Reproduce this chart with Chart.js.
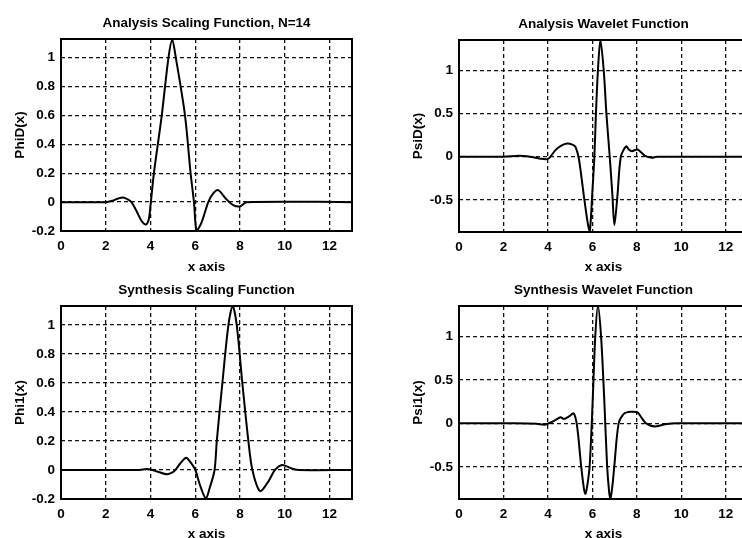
<!DOCTYPE html>
<html><head><meta charset="utf-8">
<script src="https://cdn.jsdelivr.net/npm/chart.js@4/dist/chart.umd.min.js"></script>
<style>
html,body{margin:0;padding:0;background:#fff;width:742px;height:538px;overflow:hidden;position:relative}
canvas{position:absolute}
</style></head><body>
<canvas id="c1" width="371" height="275" style="left:0;top:0"></canvas>
<canvas id="c2" width="380" height="275" style="left:371px;top:0"></canvas>
<canvas id="c3" width="371" height="274" style="left:0;top:268px"></canvas>
<canvas id="c4" width="380" height="274" style="left:371px;top:268px"></canvas>
<script>
// ---- data ----
const xTicks = [0, 2, 4, 6, 8, 10, 12];
const phiYTicks = [-0.2, 0, 0.2, 0.4, 0.6, 0.8, 1];
const psiYTicks = [-0.5, 0, 0.5, 1];
const titles = ['Analysis Scaling Function, N=14', 'Analysis Wavelet Function', 'Synthesis Scaling Function', 'Synthesis Wavelet Function'];
const yTitles = ['PhiD(x)', 'PsiD(x)', 'Phi1(x)', 'Psi1(x)'];
const xTitle = 'x axis';

const phiDx = [0, 2.0, 2.3, 2.55, 2.78, 3.0, 3.15, 3.4, 3.6, 3.79, 3.92, 4.0, 4.15, 4.5, 4.8, 4.97, 5.13, 5.54, 5.79, 5.94, 6.06, 6.28, 6.58, 6.8, 7.02, 7.39, 7.69, 7.99, 8.29, 13];
const phiDy = [0, 0, 0.01, 0.025, 0.032, 0.018, 0, -0.07, -0.13, -0.155, -0.12, -0.02, 0.2, 0.6, 1.0, 1.125, 1.0, 0.6, 0.2, 0, -0.2, -0.14, 0, 0.06, 0.083, 0.02, -0.02, -0.03, 0, 0];

const psiDx = [0, 2.0, 2.7, 3.2, 3.6, 4.0, 4.34, 4.6, 4.87, 5.1, 5.24, 5.39, 5.61, 5.78, 5.88, 6.0, 6.09, 6.16, 6.25, 6.36, 6.51, 6.63, 6.78, 6.9, 6.99, 7.13, 7.28, 7.52, 7.65, 7.78, 8.03, 8.2, 8.37, 8.67, 8.9, 13];
const psiDy = [0, 0, 0.012, 0, -0.02, -0.025, 0.077, 0.13, 0.154, 0.14, 0.115, -0.02, -0.44, -0.75, -0.87, -0.4, 0, 0.5, 1.0, 1.35, 1.0, 0.5, 0, -0.44, -0.79, -0.44, 0, 0.12, 0.08, 0.065, 0.085, 0.05, 0.01, -0.012, 0, 0];

const phi1x = [0, 3.5, 3.8, 4.0, 4.3, 4.74, 5.0, 5.11, 5.35, 5.59, 5.8, 6.0, 6.2, 6.47, 6.65, 6.86, 6.96, 7.21, 7.48, 7.67, 7.85, 8.1, 8.37, 8.55, 8.89, 9.26, 9.56, 9.88, 10.3, 10.6, 13];
const phi1y = [0, 0, 0.006, 0.004, -0.01, -0.03, -0.015, 0, 0.05, 0.085, 0.05, 0, -0.1, -0.195, -0.12, 0, 0.2, 0.6, 1.0, 1.13, 1.0, 0.6, 0.2, 0, -0.145, -0.08, 0, 0.035, 0.01, 0, 0];

const psi1x = [0, 2.5, 3.5, 3.85, 4.12, 4.35, 4.57, 4.72, 4.95, 5.16, 5.31, 5.49, 5.62, 5.69, 5.78, 5.88, 6.01, 6.13, 6.25, 6.39, 6.54, 6.66, 6.75, 6.81, 6.9, 6.99, 7.18, 7.4, 7.6, 7.78, 8.03, 8.2, 8.37, 8.6, 8.82, 9.05, 9.27, 9.8, 13];
const psi1y = [0, 0, -0.005, -0.015, 0.01, 0.04, 0.07, 0.05, 0.08, 0.115, -0.03, -0.48, -0.75, -0.81, -0.7, -0.48, 0.24, 1.0, 1.35, 1.0, 0.24, -0.48, -0.78, -0.87, -0.72, -0.48, 0, 0.107, 0.13, 0.134, 0.126, 0.07, 0.01, -0.025, -0.035, -0.025, -0.01, 0, 0];

// ---- layout (positions in canvas pixels) ----
const FONT = "'Liberation Sans', Arial, Helvetica, sans-serif";
const FS = 13.5;

const framePlugin = {
  id: 'frame',
  afterDraw(chart) {
    const a = chart.chartArea, ctx = chart.ctx;
    ctx.save();
    ctx.strokeStyle = '#000';
    ctx.lineWidth = 2;
    ctx.strokeRect(a.left, a.top, a.right - a.left, a.bottom - a.top);
    ctx.restore();
  }
};

function makeChart(id, xs, ys, yTicks, yMin, yMax, title, yTitle, L) {
  const pts = xs.map((x, i) => ({x: x, y: ys[i]}));
  const canvas = document.getElementById(id);
  const H = canvas.height, W = canvas.width;
  return new Chart(canvas, {
    type: 'line',
    data: {datasets: [{data: pts, borderColor: '#000', borderWidth: 2, pointRadius: 0, fill: false, tension: 0.3}]},
    options: {
      responsive: false, animation: false, devicePixelRatio: 1,
      layout: {padding: {left: 0, right: W - L.right, top: 0, bottom: 0}},
      plugins: {
        legend: {display: false}, tooltip: {enabled: false},
        title: {display: true, text: title, color: '#000', fullSize: false,
          font: {family: FONT, size: FS, weight: 'bold', lineHeight: 1.2},
          padding: {top: L.titleY - FS * 0.6, bottom: L.top - L.titleY - FS * 0.6}}
      },
      scales: {
        x: {type: 'linear', min: 0, max: 13,
          afterBuildTicks: s => { s.ticks = xTicks.map(v => ({value: v})); },
          afterFit: s => { s.height = H - L.bottom; },
          grid: {color: '#111', lineWidth: 1.3, drawTicks: false},
          border: {display: false, dash: [4, 3]},
          ticks: {color: '#000', padding: 7, maxRotation: 0, autoSkip: false, font: {family: FONT, size: FS, weight: 'bold'}, callback: v => String(v)},
          title: {display: true, text: xTitle, color: '#000', padding: 0, font: {family: FONT, size: FS, weight: 'bold', lineHeight: 1.2}}
        },
        y: {type: 'linear', min: yMin, max: yMax,
          afterBuildTicks: s => { s.ticks = yTicks.map(v => ({value: v})); },
          afterFit: s => { s.width = L.left; },
          grid: {color: '#111', lineWidth: 1.3, drawTicks: false},
          border: {display: false, dash: [4, 3]},
          ticks: {color: '#000', padding: 6, autoSkip: false, font: {family: FONT, size: FS, weight: 'bold'}, callback: v => String(v)},
          title: {display: true, text: yTitle, color: '#000', padding: {top: L.yTitleX - FS * 0.6, bottom: 0}, font: {family: FONT, size: FS, weight: 'bold', lineHeight: 1.2}}
        }
      }
    },
    plugins: [framePlugin]
  });
}

makeChart('c1', phiDx, phiDy, phiYTicks, -0.2, 1.13, titles[0], yTitles[0], {left: 61, right: 352, top: 39, bottom: 231, titleY: 23, yTitleX: 20});
makeChart('c2', psiDx, psiDy, psiYTicks, -0.87, 1.35, titles[1], yTitles[1], {left: 88, right: 377, top: 40, bottom: 232, titleY: 24, yTitleX: 47});
makeChart('c3', phi1x, phi1y, phiYTicks, -0.2, 1.13, titles[2], yTitles[2], {left: 61, right: 352, top: 38, bottom: 231, titleY: 22, yTitleX: 20});
makeChart('c4', psi1x, psi1y, psiYTicks, -0.87, 1.35, titles[3], yTitles[3], {left: 88, right: 377, top: 38, bottom: 231, titleY: 22, yTitleX: 47});
</script>
</body></html>
